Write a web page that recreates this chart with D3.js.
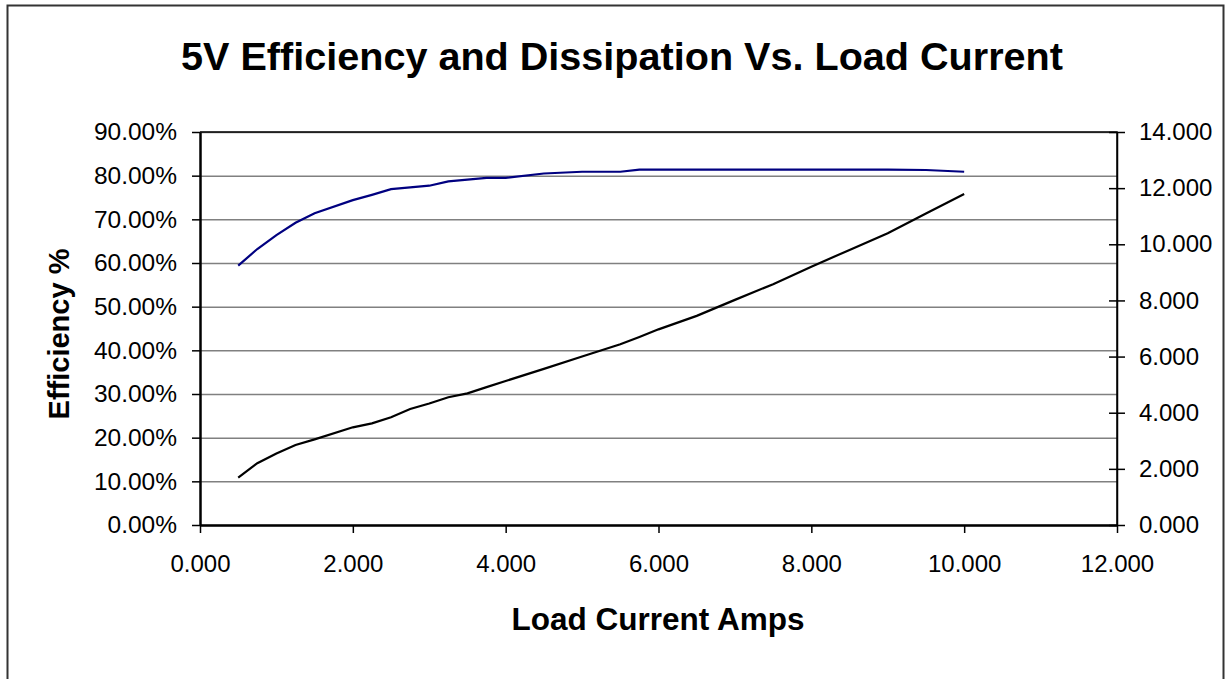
<!DOCTYPE html>
<html>
<head>
<meta charset="utf-8">
<script src="https://cdn.jsdelivr.net/npm/d3@7"></script>
<style>
  body { margin: 0; background: #fff; }
  text { font-family: "Liberation Sans", Arial, sans-serif; }
</style>
</head>
<body>
<div id="chart"></div>
<script>
// load current (A) shared by both series
const loadAmps = [0.5, 0.75, 1, 1.25, 1.5, 2, 2.25, 2.5, 2.75, 3, 3.25, 3.5, 3.75, 4, 4.5,
    5, 5.5, 5.75, 6, 6.5, 7, 7.5, 8, 8.5, 9, 9.5, 10];
// efficiency in percent (left axis)
const efficiencyPct = [59.4, 63.2, 66.4, 69.2, 71.4, 74.4, 75.6, 76.9, 77.3, 77.7, 78.7, 79.1, 79.5, 79.5, 80.5,
    80.9, 80.9, 81.4, 81.4, 81.4, 81.4, 81.4, 81.4, 81.4, 81.4, 81.3, 80.9];
// dissipation (right axis)
const dissipation = [1.69, 2.20, 2.55, 2.85, 3.05, 3.48, 3.62, 3.84, 4.13, 4.33, 4.55, 4.69, 4.91, 5.13, 5.56,
    6.00, 6.44, 6.70, 6.97, 7.45, 8.02, 8.58, 9.20, 9.80, 10.39, 11.10, 11.79];

const xTicks = [0, 2, 4, 6, 8, 10, 12];
const leftTicks = [0, 10, 20, 30, 40, 50, 60, 70, 80, 90];
const rightTicks = [0, 2, 4, 6, 8, 10, 12, 14];

const chartTitle = "5V Efficiency and Dissipation Vs. Load Current";
const xTitle = "Load Current Amps";
const yTitle = "Efficiency %";

let fullWidth = 1227, fullHeight = 679;
let margin = { top: 132, right: 110, bottom: 154, left: 200 };
let width = fullWidth - margin.left - margin.right;
let height = fullHeight - margin.top - margin.bottom;

let root = d3.select("#chart")
    .append("svg")
    .attr("width", fullWidth)
    .attr("height", fullHeight);

// outer chart frame
root.append("rect")
    .attr("x", 7.5)
    .attr("y", 5.5)
    .attr("width", 1216)
    .attr("height", 720)
    .attr("fill", "none")
    .attr("stroke", "#333")
    .attr("stroke-width", 2);

root.append("text")
    .attr("x", 622)
    .attr("y", 70)
    .attr("text-anchor", "middle")
    .style("font-size", "39.6px")
    .style("font-weight", "bold")
    .text(chartTitle);

let svg = root.append("g")
    .attr("transform", `translate(${margin.left},${margin.top})`);

let x = d3.scaleLinear().domain([0, 12]).range([0, width]);
let yLeft = d3.scaleLinear().domain([0, 90]).range([height, 0]);
let yRight = d3.scaleLinear().domain([0, 14]).range([height, 0]);

// gridlines on the percent ticks
svg.append("g")
    .attr("class", "grid")
    .call(d3.axisLeft(yLeft).tickValues(leftTicks).tickSize(-width).tickFormat(""))
    .call(g => g.select(".domain").remove())
    .selectAll("line")
    .attr("stroke", "#808080")
    .attr("stroke-width", 1.5);

// plot frame (top + right)
svg.append("path")
    .attr("d", `M0,0H${width}V${height}`)
    .attr("fill", "none")
    .attr("stroke", "#000")
    .attr("stroke-width", 1.5);

let fmt3 = d3.format(".3f");

let xAxis = svg.append("g")
    .attr("transform", `translate(0,${height})`)
    .call(d3.axisBottom(x).tickValues(xTicks).tickSize(8).tickSizeOuter(0).tickFormat(fmt3));
xAxis.selectAll("text")
    .attr("y", 47)
    .attr("dy", null);

let leftAxis = svg.append("g")
    .call(d3.axisLeft(yLeft).tickValues(leftTicks).tickSize(8).tickSizeOuter(0)
        .tickPadding(15).tickFormat(d => d.toFixed(2) + "%"));

let rightAxis = svg.append("g")
    .attr("transform", `translate(${width},0)`)
    .call(d3.axisRight(yRight).tickValues(rightTicks).tickSize(8).tickSizeOuter(0)
        .tickPadding(14).tickFormat(fmt3));
rightAxis.selectAll(".tick line").attr("x1", -8);

svg.selectAll(".tick text")
    .style("font-size", "24px")
    .style("fill", "#000");
leftAxis.selectAll(".tick text")
    .style("font-size", "24.5px");
svg.selectAll(".tick line")
    .filter(function() { return !this.closest(".grid"); })
    .attr("stroke", "#000")
    .attr("stroke-width", 1.5);

xAxis.select(".domain").attr("stroke", "#000").attr("stroke-width", 2.5);
leftAxis.select(".domain").attr("stroke", "#000").attr("stroke-width", 2.5);
rightAxis.select(".domain").attr("stroke", "#000").attr("stroke-width", 1.5);

let effLine = d3.line()
    .x((d, i) => x(loadAmps[i]))
    .y(d => yLeft(d));
let dissLine = d3.line()
    .x((d, i) => x(loadAmps[i]))
    .y(d => yRight(d));

svg.append("path")
    .datum(efficiencyPct)
    .attr("d", effLine)
    .attr("fill", "none")
    .attr("stroke", "#000080")
    .attr("stroke-width", 2.2);

svg.append("path")
    .datum(dissipation)
    .attr("d", dissLine)
    .attr("fill", "none")
    .attr("stroke", "#000")
    .attr("stroke-width", 2.2);

root.append("text")
    .attr("x", 658)
    .attr("y", 630)
    .attr("text-anchor", "middle")
    .style("font-size", "31.5px")
    .style("font-weight", "bold")
    .text(xTitle);

root.append("text")
    .attr("transform", "translate(69,334) rotate(-90)")
    .attr("text-anchor", "middle")
    .style("font-size", "29px")
    .style("font-weight", "bold")
    .text(yTitle);
</script>
</body>
</html>
